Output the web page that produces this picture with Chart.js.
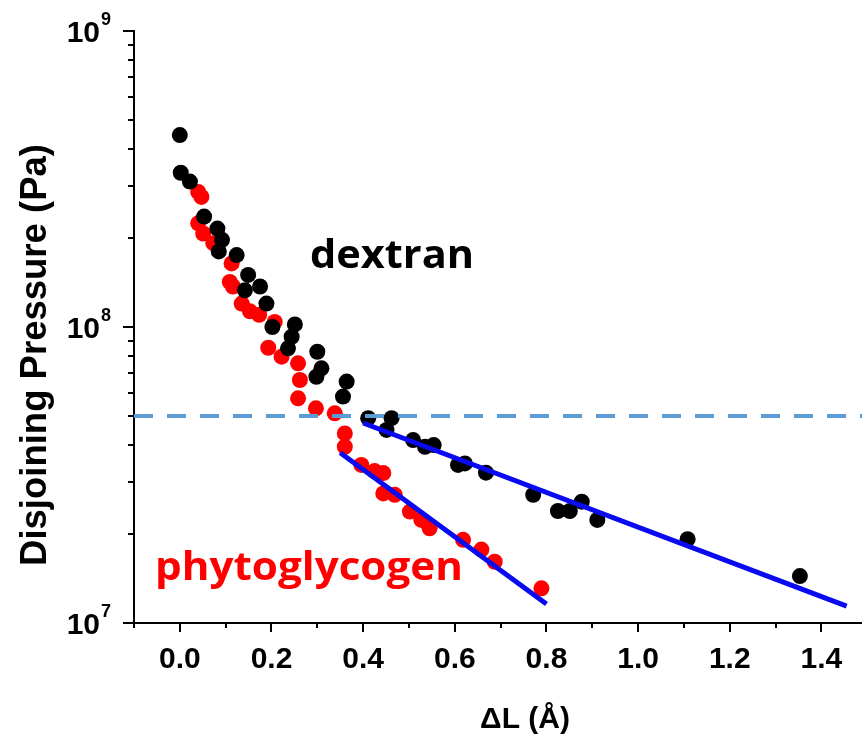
<!DOCTYPE html>
<html>
<head>
<meta charset="utf-8">
<script src="https://cdn.jsdelivr.net/npm/chart.js@4.4.1/dist/chart.umd.min.js"></script>
<style>
  html, body { margin: 0; padding: 0; background: #fff; }
  #wrap { width: 862px; height: 734px; position: relative; }
</style>
</head>
<body>
<div id="wrap"><canvas id="pressureChart"></canvas></div>
<script>
// dextran: ΔL (Å) vs disjoining pressure (Pa)
const dextranX = [0.000, 0.002, 0.022, 0.053, 0.082, 0.092, 0.085, 0.124, 0.149, 0.142,
  0.175, 0.189, 0.202, 0.251, 0.244, 0.236, 0.300, 0.309, 0.298, 0.364,
  0.356, 0.411, 0.462, 0.451, 0.509, 0.535, 0.554, 0.607, 0.622, 0.668,
  0.771, 0.825, 0.851, 0.877, 0.911, 1.108, 1.353];
const dextranY = [4.45e8, 3.32e8, 3.10e8, 2.36e8, 2.15e8, 1.97e8, 1.80e8, 1.75e8, 1.50e8, 1.33e8,
  1.37e8, 1.20e8, 1.00e8, 1.02e8, 9.27e7, 8.47e7, 8.25e7, 7.25e7, 6.79e7, 6.54e7,
  5.82e7, 4.92e7, 4.92e7, 4.49e7, 4.15e7, 3.94e7, 3.99e7, 3.42e7, 3.46e7, 3.22e7,
  2.71e7, 2.39e7, 2.39e7, 2.57e7, 2.23e7, 1.92e7, 1.44e7];

// phytoglycogen
const phytoX = [0.040, 0.047, 0.040, 0.051, 0.073, 0.113, 0.109, 0.116, 0.135, 0.153,
  0.173, 0.207, 0.193, 0.222, 0.258, 0.262, 0.258, 0.297, 0.338, 0.360,
  0.360, 0.396, 0.425, 0.444, 0.444, 0.469, 0.502, 0.527, 0.545, 0.618,
  0.658, 0.687, 0.789];
const phytoY = [2.86e8, 2.75e8, 2.24e8, 2.07e8, 1.92e8, 1.64e8, 1.42e8, 1.37e8, 1.20e8, 1.13e8,
  1.10e8, 1.04e8, 8.51e7, 7.94e7, 7.54e7, 6.62e7, 5.74e7, 5.31e7, 5.11e7, 4.37e7,
  3.94e7, 3.42e7, 3.26e7, 3.21e7, 2.74e7, 2.71e7, 2.38e7, 2.23e7, 2.09e7, 1.91e7,
  1.77e7, 1.61e7, 1.31e7];

// linear fits (on log scale) for the large-ΔL branch
const dextranFitX = [0.40, 1.455];
const dextranFitY = [4.74e7, 1.14e7];
const phytoFitX = [0.35, 0.80];
const phytoFitY = [3.76e7, 1.16e7];

// threshold pressure
const thresholdX = [-0.1, 1.4885];
const thresholdY = [5e7, 5e7];

const xMajorTicks = [0.0, 0.2, 0.4, 0.6, 0.8, 1.0, 1.2, 1.4];
const xMinorTicks = [-0.1, 0.1, 0.3, 0.5, 0.7, 0.9, 1.1, 1.3];
const yMajorExp = [7, 8, 9];

const toPoints = (xs, ys) => xs.map((x, i) => ({ x: x, y: ys[i] }));

const axisDecor = {
  id: 'axisDecor',
  afterDraw(chart) {
    const { ctx, chartArea, scales } = chart;
    const xs = scales.x, ys = scales.y;
    ctx.save();
    ctx.strokeStyle = '#000';
    ctx.fillStyle = '#000';
    ctx.lineWidth = 2;

    // x tick marks and labels
    ctx.beginPath();
    xMajorTicks.forEach(v => {
      const px = Math.round(xs.getPixelForValue(v));
      ctx.moveTo(px, chartArea.bottom); ctx.lineTo(px, chartArea.bottom + 9);
    });
    xMinorTicks.forEach(v => {
      const px = Math.round(xs.getPixelForValue(v));
      ctx.moveTo(px, chartArea.bottom); ctx.lineTo(px, chartArea.bottom + 5);
    });
    ctx.stroke();

    ctx.font = 'bold 30px "Liberation Sans", Arial, sans-serif';
    ctx.textAlign = 'center';
    ctx.textBaseline = 'alphabetic';
    xMajorTicks.forEach(v => {
      ctx.fillText(v.toFixed(1), xs.getPixelForValue(v), 668);
    });

    // y tick marks: decades and 2..9 minors
    ctx.beginPath();
    yMajorExp.forEach(e => {
      const py = Math.round(ys.getPixelForValue(Math.pow(10, e)));
      ctx.moveTo(chartArea.left, py); ctx.lineTo(chartArea.left - 11, py);
    });
    for (let e = 7; e < 9; e++) {
      for (let m = 2; m <= 9; m++) {
        const py = Math.round(ys.getPixelForValue(m * Math.pow(10, e)));
        ctx.moveTo(chartArea.left, py); ctx.lineTo(chartArea.left - 6, py);
      }
    }
    ctx.stroke();

    // y labels as 10^n
    yMajorExp.forEach(e => {
      const py = ys.getPixelForValue(Math.pow(10, e));
      ctx.textAlign = 'right';
      ctx.font = 'bold 30px "Liberation Sans", Arial, sans-serif';
      ctx.fillText('10', 100, py + 11);
      ctx.textAlign = 'left';
      ctx.font = 'bold 18px "Liberation Sans", Arial, sans-serif';
      ctx.fillText(String(e), 101, py - 6);
    });

    // axis titles
    ctx.textAlign = 'center';
    ctx.font = 'bold 30px "Liberation Sans", Arial, sans-serif';
    ctx.fillText('\u0394L (\u00C5)', 525, 728);

    ctx.save();
    ctx.translate(46, 355);
    ctx.rotate(-Math.PI / 2);
    ctx.font = 'bold 36.5px "Liberation Sans", Arial, sans-serif';
    ctx.fillText('Disjoining Pressure (Pa)', 0, 0);
    ctx.restore();

    // series names
    const label = (text, color, left, width, baseline) => {
      ctx.font = 'bold 40px "Open Sans", sans-serif';
      const w = ctx.measureText(text).width;
      ctx.save();
      ctx.translate(left, baseline);
      ctx.scale(width / w, 1);
      ctx.textAlign = 'left';
      ctx.fillStyle = color;
      ctx.fillText(text, 0, 0);
      ctx.restore();
    };
    label('dextran', '#000', 310, 164, 268);
    label('phytoglycogen', '#ff0000', 155, 308, 580);

    ctx.restore();
  }
};

new Chart(document.getElementById('pressureChart'), {
  type: 'scatter',
  data: {
    datasets: [
      {
        data: toPoints(thresholdX, thresholdY),
        showLine: true, pointRadius: 0,
        borderColor: '#5b9bd5', borderWidth: 4, borderDash: [19, 14],
        order: 0
      },
      {
        data: toPoints(dextranFitX, dextranFitY),
        showLine: true, pointRadius: 0,
        borderColor: '#0a0af0', borderWidth: 5,
        order: 1
      },
      {
        data: toPoints(phytoFitX, phytoFitY),
        showLine: true, pointRadius: 0,
        borderColor: '#0a0af0', borderWidth: 5,
        order: 1
      },
      {
        data: toPoints(dextranX, dextranY),
        pointRadius: 8, pointBorderWidth: 0,
        backgroundColor: '#000', borderColor: '#000',
        order: 2
      },
      {
        data: toPoints(phytoX, phytoY),
        pointRadius: 8, pointBorderWidth: 0,
        backgroundColor: '#ff0000', borderColor: '#ff0000',
        order: 3
      }
    ]
  },
  options: {
    responsive: true,
    maintainAspectRatio: false,
    animation: false,
    layout: { autoPadding: false, padding: { top: 31, right: 0, left: 0, bottom: 0 } },
    plugins: { legend: { display: false }, tooltip: { enabled: false } },
    scales: {
      x: {
        type: 'linear', min: -0.1, max: 1.4885,
        grid: { display: false },
        ticks: { display: false },
        border: { display: true, color: '#000', width: 2 },
        afterFit(scale) { scale.height = 111; }
      },
      y: {
        type: 'logarithmic', min: 1e7, max: 1e9,
        grid: { display: false },
        ticks: { display: false },
        border: { display: true, color: '#000', width: 2 },
        afterFit(scale) { scale.width = 134; }
      }
    }
  },
  plugins: [axisDecor]
});
</script>
</body>
</html>
